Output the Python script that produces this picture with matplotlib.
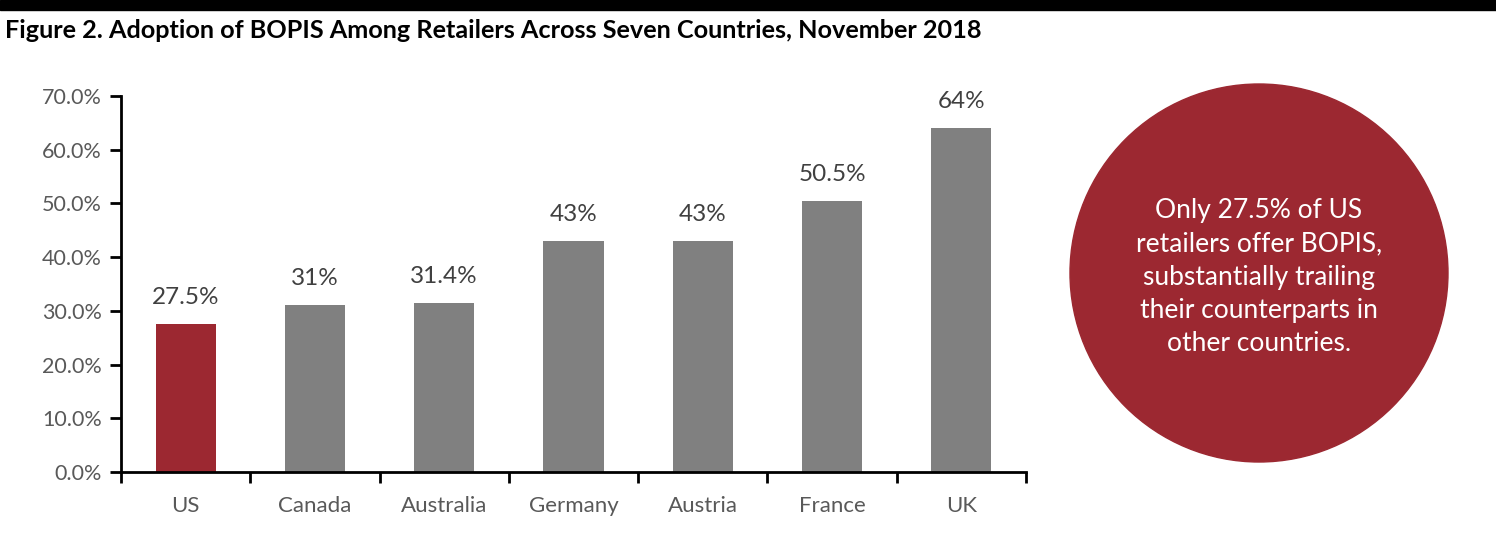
import matplotlib
matplotlib.use("Agg")
import matplotlib.pyplot as plt
from matplotlib.patches import Rectangle, Ellipse

countries = ["US", "Canada", "Australia", "Germany", "Austria", "France", "UK"]
values = [27.5, 31, 31.4, 43, 43, 50.5, 64]
value_labels = ["27.5%", "31%", "31.4%", "43%", "43%", "50.5%", "64%"]
yticks = [0, 10, 20, 30, 40, 50, 60, 70]
title = "Figure 2. Adoption of BOPIS Among Retailers Across Seven Countries, November 2018"
callout = ("Only 27.5% of US\nretailers offer BOPIS,\nsubstantially trailing\n"
           "their counterparts in\nother countries.")

RED = "#9C2831"
GRAY = "#808080"
FONT = ["Lato", "DejaVu Sans"]
plt.rcParams["font.family"] = FONT

W, H = 1496, 546
fig = plt.figure(figsize=(W / 100, H / 100), dpi=100)

# top black band
fig.patches.append(Rectangle((0, 1 - 10 / H), 1, 10 / H, transform=fig.transFigure,
                             color="black", zorder=0))
fig.text(5 / W, 1 - 31 / H, title, fontsize=18.2, fontweight="bold",
         va="center", ha="left", color="black")

ax = fig.add_axes([121 / W, 1 - 472 / H, (1026 - 121) / W, (472 - 96) / H])
x = list(range(len(countries)))
colors = [RED] + [GRAY] * (len(countries) - 1)
ax.bar(x, values, width=0.465, color=colors, zorder=2)
for xi, v, lab in zip(x, values, value_labels):
    ax.text(xi, v + 3.0, lab, ha="center", va="bottom", fontsize=17.5, color="#404040")

ax.set_xlim(-0.5, len(countries) - 0.5)
ax.set_ylim(0, 70)
ax.set_yticks(yticks)
ax.set_yticklabels([f"{t:.1f}%" for t in yticks], fontsize=15.5, color="#595959")
ax.set_xticks(x)
ax.set_xticklabels(countries, fontsize=16, color="#595959")
ax.set_xticks([i - 0.5 for i in range(len(countries) + 1)], minor=True)
ax.tick_params(axis="x", which="major", length=0, pad=17)
ax.tick_params(axis="x", which="minor", length=8, width=2, color="black", direction="out")
ax.tick_params(axis="y", length=8, width=2, color="black", direction="out", pad=6)
for s in ["top", "right"]:
    ax.spines[s].set_visible(False)
for s in ["left", "bottom"]:
    ax.spines[s].set_linewidth(2)
    ax.spines[s].set_color("black")

# callout circle
cx, cy, r = 1259, 273, 189
ell = Ellipse((cx / W, 1 - cy / H), 2 * r / W, 2 * r / H, transform=fig.transFigure,
              color=RED, zorder=1)
fig.patches.append(ell)
fig.text(cx / W, 1 - 277 / H, callout, ha="center", va="center", fontsize=19,
         color="white", linespacing=1.42, zorder=3)

fig.savefig("out.png", dpi=100)
